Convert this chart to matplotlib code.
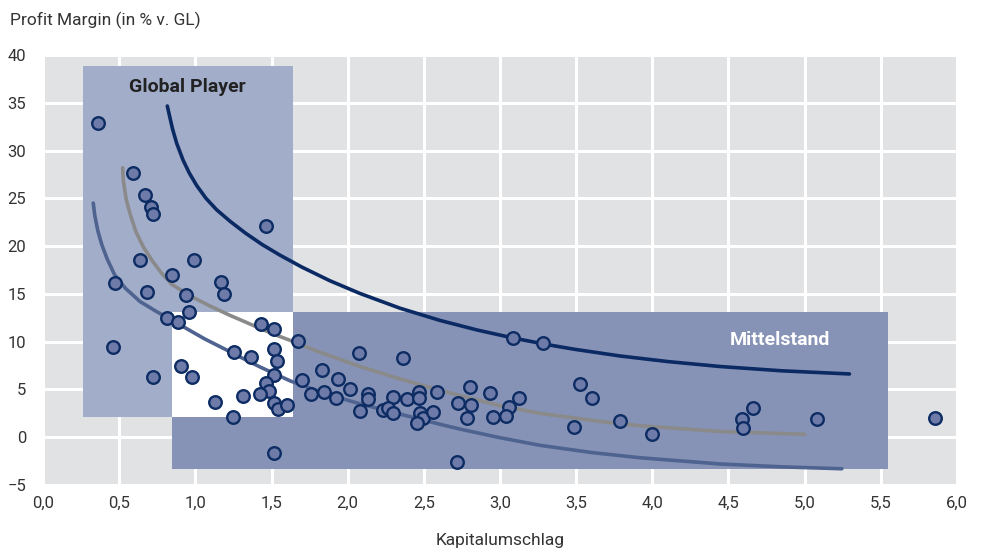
import matplotlib
matplotlib.use("Agg")
import matplotlib.pyplot as plt
from matplotlib.patches import Rectangle

# ---------------- data ----------------
pts_x = [0.363, 0.589, 0.670, 0.707, 0.720, 1.464, 0.637, 0.993, 0.845, 0.473,
         1.167, 0.681, 0.939, 1.190, 0.961, 0.812, 0.884, 1.431, 1.519, 1.676,
         0.457, 1.519, 1.254, 1.366, 1.534, 0.906, 0.724, 0.980, 1.519, 1.699,
         1.464, 1.484, 1.425, 1.311, 1.129, 1.519, 1.545, 1.604, 1.245, 1.517,
         2.077, 2.366, 1.830, 1.935, 2.016, 1.760, 1.844, 1.922, 2.136, 2.136,
         2.300, 2.388, 2.467, 2.471, 2.585, 2.727, 2.081, 2.230, 2.267, 2.296,
         2.475, 2.493, 2.453, 2.558, 2.720, 3.088, 3.281, 2.804, 2.810, 2.782,
         2.935, 3.125, 3.060, 3.040, 2.957, 3.526, 3.603, 3.489, 3.789, 4.001,
         4.587, 4.592, 4.660, 5.084, 5.857]
pts_y = [32.85, 27.6, 25.3, 24.1, 23.4, 22.1, 18.5, 18.5, 16.97, 16.1,
         16.2, 15.2, 14.9, 15.0, 13.1, 12.5, 12.1, 11.9, 11.3, 10.1,
         9.4, 9.2, 8.95, 8.36, 7.97, 7.45, 6.33, 6.33, 6.5, 5.98,
         5.64, 4.87, 4.52, 4.35, 3.65, 3.55, 2.92, 3.37, 2.15, -1.6,
         8.78, 8.25, 7.03, 6.12, 5.01, 4.52, 4.76, 4.07, 4.52, 3.97,
         4.17, 3.97, 4.76, 4.14, 4.76, 3.61, 2.74, 2.85, 3.02, 2.57,
         2.50, 2.04, 1.52, 2.67, -2.56, 10.35, 9.89, 5.29, 3.37, 2.04,
         4.59, 4.14, 3.19, 2.25, 2.15, 5.57, 4.07, 1.04, 1.70, 0.33,
         1.87, 0.93, 3.02, 1.90, 1.98]

# trend curves
top_x = [0.816, 0.85, 0.878, 0.92, 0.96, 1.009, 1.07, 1.14, 1.228, 1.33, 1.44, 1.556,
         1.70, 1.88, 2.08, 2.344, 2.607, 2.85, 3.088, 3.30, 3.49, 3.789, 4.10, 4.445, 4.85, 5.294]
top_y = [34.66, 32.28, 30.74, 28.98, 27.66, 26.34, 25.0, 23.8, 22.6, 21.35, 20.15, 19.05,
         17.8, 16.4, 15.05, 13.5, 12.22, 11.22, 10.38, 9.72, 9.2, 8.5, 7.92, 7.4, 6.95, 6.62]

mid_x = [0.523, 0.527, 0.545, 0.571, 0.61, 0.659, 0.72, 0.779, 0.845, 0.965, 1.10, 1.228,
         1.33, 1.43, 1.52, 1.62, 1.80, 2.08, 2.344, 2.607, 3.0, 3.263, 3.657, 3.92, 4.445, 5.0]
mid_y = [28.2, 26.9, 25.0, 23.4, 21.5, 19.9, 18.4, 17.15, 16.0, 14.8, 13.7, 12.75,
         12.05, 11.35, 10.75, 10.15, 9.0, 7.4, 6.1, 4.9, 3.3, 2.5, 1.65, 1.2, 0.6, 0.3]

low_x = [0.330, 0.34, 0.36, 0.385, 0.42, 0.47, 0.54, 0.637, 0.74, 0.845, 0.95, 1.06, 1.184,
         1.30, 1.425, 1.622, 1.863, 2.08, 2.30, 2.607, 2.738, 3.0, 3.263, 3.6, 3.92, 4.445, 4.85, 5.244]
low_y = [24.5, 23.2, 21.6, 20.2, 18.7, 17.0, 15.6, 14.2, 13.2, 12.25, 11.3, 10.3, 9.3,
         8.35, 7.35, 5.9, 4.5, 3.5, 2.6, 1.35, 0.85, -0.05, -0.85, -1.6, -2.15, -2.8, -3.1, -3.3]

# segment boxes: (x0, x1, y0, y1)
global_box = (0.26, 1.64, 2.15, 38.8)
mittel_box = (0.845, 5.55, -3.3, 13.1)

x_ticks = [0.0, 0.5, 1.0, 1.5, 2.0, 2.5, 3.0, 3.5, 4.0, 4.5, 5.0, 5.5, 6.0]
x_labels = ["0,0", "0,5", "1,0", "1,5", "2,0", "2,5", "3,0", "3,5", "4,0", "4,5", "5,0", "5,5", "6,0"]
y_ticks = [-5, 0, 5, 10, 15, 20, 25, 30, 35, 40]

# ---------------- styles ----------------
BG = "#e1e2e4"
GP_COL = "#a2adca"
MS_COL = "#8793b6"
DOT_FACE = "#6e7ba8"
DOT_EDGE = "#0d2c63"
TXT = "#333333"
tick_font = ["Roboto", "DejaVu Sans"]

fig = plt.figure(figsize=(9.84, 5.51), dpi=100)
ax = fig.add_axes([43/984, 1-485/551, (957-43)/984, (485-55)/551])
ax.set_facecolor(BG)
ax.set_xlim(0, 6)
ax.set_ylim(-5, 40)
ax.set_xticks(x_ticks)
ax.set_xticklabels(x_labels)
ax.set_yticks(y_ticks)
ax.set_axisbelow(True)
ax.grid(True, color="white", linewidth=2.2, zorder=0)
for s in ax.spines.values():
    s.set_visible(False)
ax.tick_params(length=0, labelsize=12, colors=TXT, pad=8)
for lab in ax.get_xticklabels() + ax.get_yticklabels():
    lab.set_family(tick_font)
ax.tick_params(axis="y", pad=12)

gx0, gx1, gy0, gy1 = global_box
mx0, mx1, my0, my1 = mittel_box
ax.add_patch(Rectangle((gx0, gy0), gx1 - gx0, gy1 - gy0, facecolor=GP_COL, edgecolor="none", zorder=1))
ax.add_patch(Rectangle((mx0, my0), mx1 - mx0, my1 - my0, facecolor=MS_COL, edgecolor="none", zorder=1))
ox0, ox1 = max(gx0, mx0), min(gx1, mx1)
oy0, oy1 = max(gy0, my0), min(gy1, my1)
ax.add_patch(Rectangle((ox0, oy0), ox1 - ox0, oy1 - oy0, facecolor="white", edgecolor="none", zorder=1.5))

ax.plot(low_x, low_y, color="#4f6390", linewidth=2.6, solid_capstyle="round", solid_joinstyle="round", zorder=2)
ax.plot(mid_x, mid_y, color="#8a8a8a", linewidth=2.6, solid_capstyle="round", solid_joinstyle="round", zorder=2)
ax.plot(top_x, top_y, color="#0b2a63", linewidth=2.6, solid_capstyle="round", solid_joinstyle="round", zorder=2)

ax.scatter(pts_x, pts_y, s=82, facecolor=DOT_FACE, edgecolor=DOT_EDGE, linewidth=1.7, zorder=3)

ax.text((gx0 + gx1) / 2, 36.7, "Global Player", ha="center", va="center",
        fontsize=14, fontweight="bold", color="#222222", family=["Roboto", "DejaVu Sans"], zorder=4)
ax.text(4.84, 10.2, "Mittelstand", ha="center", va="center",
        fontsize=14, fontweight="bold", color="white", family=["Roboto", "DejaVu Sans"], zorder=4)

fig.text(10/984, 1-20/551, "Profit Margin (in % v. GL)", ha="left", va="center",
         fontsize=12.5, color=TXT, family=tick_font)
fig.text(500/984, 1-540/551, "Kapitalumschlag", ha="center", va="center",
         fontsize=12.5, color=TXT, family=tick_font)

fig.savefig("out.png", dpi=100)
